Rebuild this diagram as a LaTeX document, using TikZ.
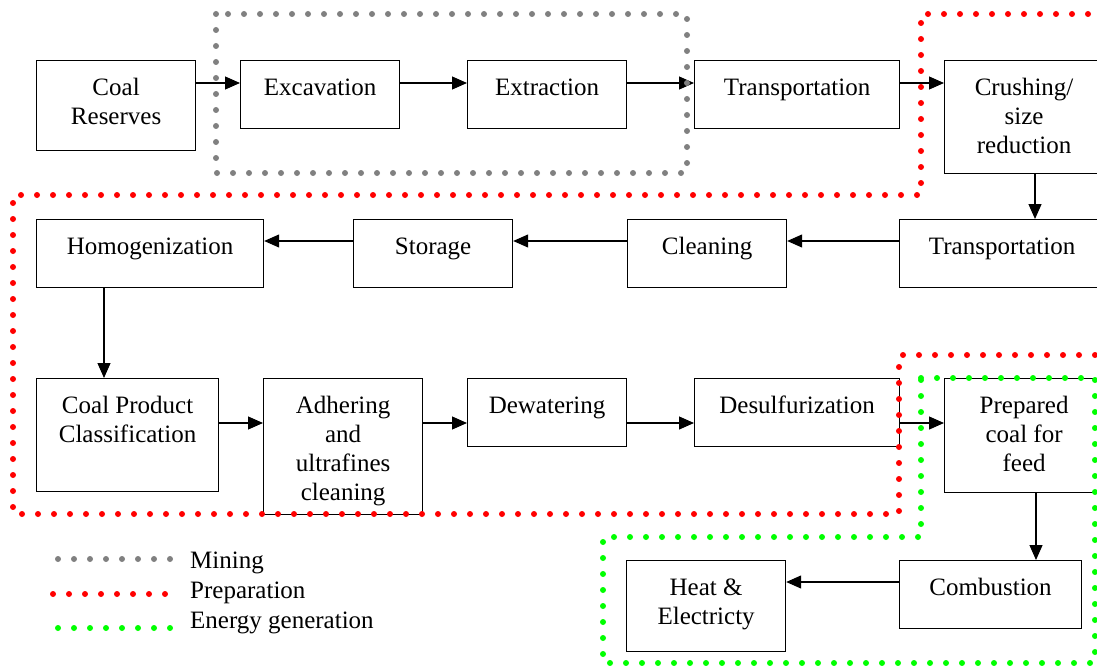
\documentclass[tikz,border=0pt]{standalone}
\usepackage{fontspec}
\setmainfont{Liberation Serif}
\usetikzlibrary{arrows.meta,calc}
\definecolor{mgray}{RGB}{128,128,128}
\definecolor{mred}{RGB}{255,0,0}
\definecolor{mgreen}{RGB}{0,255,0}
\begin{document}
\begin{tikzpicture}[x=1pt,y=-1pt,
 box/.style={draw,line width=1.2pt,anchor=north west,inner sep=0pt},
 lbl/.style={anchor=north,inner sep=0pt,align=center,font=\fontsize{25}{29}\selectfont},
 leg/.style={anchor=base west,inner sep=0pt,font=\fontsize{25}{29}\selectfont},
 arr/.style={line width=1.2pt,-{Triangle[length=15pt,width=13pt]}},
 dots/.style={line width=6pt,line cap=round,dash pattern=on 0pt off 16pt},
]
\useasboundingbox (0,0) rectangle (1097,666);
\clip (0,0) rectangle (1097,666);

% boxes
\node[box,minimum width=159,minimum height=90] (cr) at (36,60) {};
\node[box,minimum width=159,minimum height=68] (exc) at (240,60) {};
\node[box,minimum width=159,minimum height=68] (ext) at (467,60) {};
\node[box,minimum width=205,minimum height=68] (tr1) at (694,60) {};
\node[box,minimum width=159,minimum height=113] (cru) at (944,60) {};
\node[box,minimum width=205,minimum height=68] (tr2) at (899,219) {};
\node[box,minimum width=159,minimum height=68] (cle) at (627,219) {};
\node[box,minimum width=159,minimum height=68] (sto) at (353,219) {};
\node[box,minimum width=227,minimum height=68] (hom) at (36,219) {};
\node[box,minimum width=182,minimum height=113] (cpc) at (36,378) {};
\node[box,minimum width=159,minimum height=136] (adh) at (263,378) {};
\node[box,minimum width=159,minimum height=68] (dew) at (467,378) {};
\node[box,minimum width=205,minimum height=68] (des) at (694,378) {};
\node[box,minimum width=159,minimum height=114] (pre) at (944,378) {};
\node[box,minimum width=182,minimum height=68] (com) at (899,560) {};
\node[box,minimum width=159,minimum height=91] (hea) at (626,560) {};

% labels
\node[lbl] (cr-t) at ([yshift=-14.7pt]cr.north) {\strut Coal\\Reserves};
\node[lbl] (exc-t) at ([yshift=-14.7pt]exc.north) {\strut Excavation};
\node[lbl] (ext-t) at ([yshift=-14.7pt]ext.north) {\strut Extraction};
\node[lbl] (tr1-t) at ([yshift=-14.7pt]tr1.north) {\strut Transportation};
\node[lbl] (cru-t) at ([yshift=-14.7pt]cru.north) {\strut Crushing/\\size\\reduction};
\node[lbl] (tr2-t) at ([yshift=-14.7pt]tr2.north) {\strut Transportation};
\node[lbl] (cle-t) at ([yshift=-14.7pt]cle.north) {\strut Cleaning};
\node[lbl] (sto-t) at ([yshift=-14.7pt]sto.north) {\strut Storage};
\node[lbl] (hom-t) at ([yshift=-14.7pt]hom.north) {\strut Homogenization};
\node[lbl] (cpc-t) at ([yshift=-14.7pt]cpc.north) {\strut Coal Product\\Classification};
\node[lbl] (adh-t) at ([yshift=-14.7pt]adh.north) {\strut Adhering\\and\\ultrafines\\cleaning};
\node[lbl] (dew-t) at ([yshift=-14.7pt]dew.north) {\strut Dewatering};
\node[lbl] (des-t) at ([yshift=-14.7pt]des.north) {\strut Desulfurization};
\node[lbl] (pre-t) at ([yshift=-14.7pt]pre.north) {\strut Prepared\\coal for\\feed};
\node[lbl] (com-t) at ([yshift=-14.7pt]com.north) {\strut Combustion};
\node[lbl] (hea-t) at ([yshift=-14.7pt]hea.north) {\strut Heat \&\\Electricty};

% arrows
\draw[arr] ([yshift=-23pt]cr.north east) -- ([yshift=-23pt]exc.north west);
\draw[arr] ([yshift=-23pt]exc.north east) -- ([yshift=-23pt]ext.north west);
\draw[arr] ([yshift=-23pt]ext.north east) -- ([yshift=-23pt]tr1.north west);
\draw[arr] ([yshift=-23pt]tr1.north east) -- ([yshift=-23pt]cru.north west);
\draw[arr] ([xshift=91pt]cru.south west) -- ([xshift=91pt]cru.south west |- tr2.north);
\draw[arr] ([yshift=-22pt]tr2.north west) -- ([yshift=-22pt]cle.north east);
\draw[arr] ([yshift=-22pt]cle.north west) -- ([yshift=-22pt]sto.north east);
\draw[arr] ([yshift=-22pt]sto.north west) -- ([yshift=-22pt]hom.north east);
\draw[arr] ([xshift=68pt]hom.south west) -- ([xshift=68pt]hom.south west |- cpc.north);
\draw[arr] ([yshift=-45pt]cpc.north east) -- ([yshift=-45pt]adh.north west);
\draw[arr] ([yshift=-45pt]adh.north east) -- ([yshift=-45pt]dew.north west);
\draw[arr] ([yshift=-45pt]dew.north east) -- ([yshift=-45pt]des.north west);
\draw[arr] ([yshift=-45pt]des.north east) -- ([yshift=-45pt]pre.north west);
\draw[arr] ([xshift=92pt]pre.south west) -- ([xshift=92pt]pre.south west |- com.north);
\draw[arr] ([yshift=-22pt]com.north west) -- ([yshift=-22pt]hea.north east);

% regions
\draw[dots,mgray] (216,14) rectangle (687,173);
\draw[dots,mred] (1120,14) -- (921,14) -- (921,195) -- (13,195) -- (13,514) -- (899,514) -- (899,355) -- (1120,355);
\draw[dots,mgreen] (921,378) -- (1095,378) -- (1095,663) -- (603,663) -- (603,537) -- (921,537) -- cycle;

% legend
\draw[dots,mgray] (58,559) -- (170,559);
\draw[dots,mred] (53,594) -- (170,594);
\draw[dots,mgreen] (58,628) -- (170,628);
\node[leg] (l1) at (190,568) {Mining};
\node[leg] (l2) at (190,598) {Preparation};
\node[leg] (l3) at (190,628) {Energy generation};
\end{tikzpicture}
\end{document}
